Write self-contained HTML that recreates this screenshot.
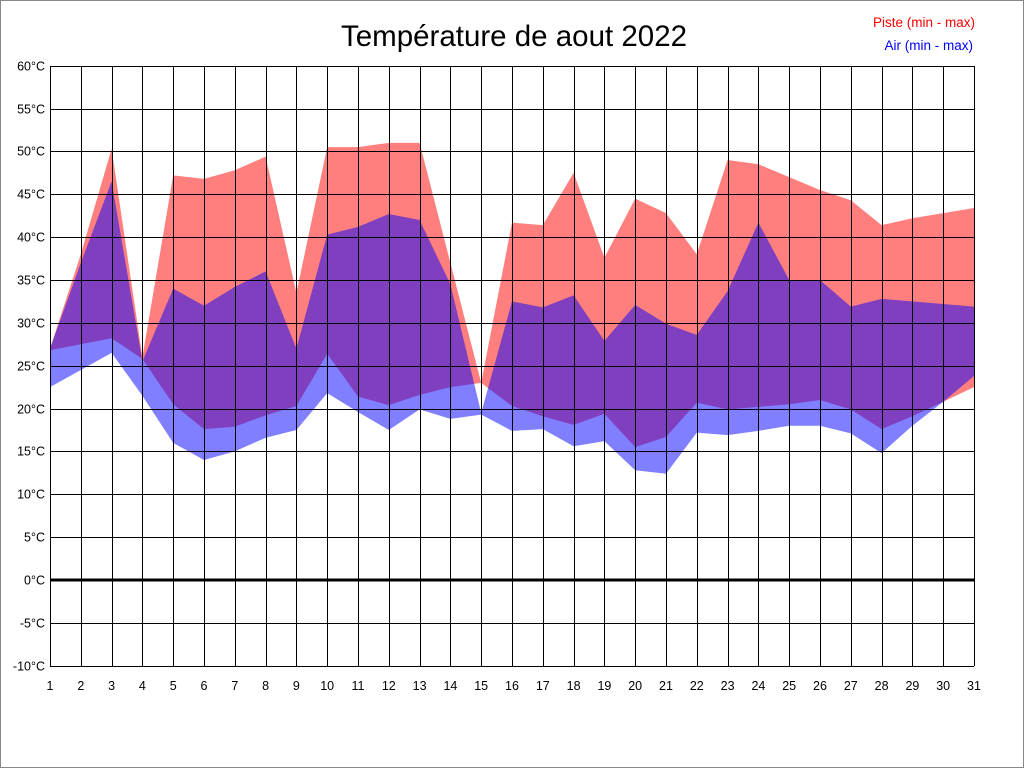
<!DOCTYPE html>
<html><head><meta charset="utf-8"><style>
html,body{margin:0;padding:0;background:#fff}
svg{display:block}
text{font-family:"Liberation Sans",sans-serif}
</style></head><body>
<svg id="c" width="1024" height="768" xmlns="http://www.w3.org/2000/svg"></svg>
<script>
const rMax=[27,38,50.3,26,47.2,46.8,47.8,49.4,33.5,50.5,50.5,51,51,37,23,41.7,41.4,47.5,37.6,44.5,42.8,38,49,48.5,47,45.5,44.3,41.4,42.2,42.8,43.4];
const rMin=[26.8,27.5,28.2,25.8,20.5,17.6,17.9,19.2,20.3,26.4,21.4,20.4,21.6,22.5,23,20.3,19.1,18.1,19.4,15.5,16.7,20.7,19.9,20.2,20.5,21,19.9,17.6,19.1,20.8,22.5];
const aMax=[27,37,46.5,25.5,34,32,34.2,36,27,40.3,41.2,42.7,42,34.5,19.5,32.5,31.8,33.2,27.9,32.1,29.9,28.6,33.7,41.7,35,35,31.9,32.8,32.5,32.2,31.9];
const aMin=[22.5,24.5,26.5,21.5,16,14,15,16.6,17.5,21.8,19.6,17.5,19.9,18.8,19.3,17.4,17.6,15.6,16.2,12.8,12.4,17.2,16.9,17.4,18,18,17.1,14.8,18,20.8,23.8];
const X=i=>50+i*30.8, Y=v=>580-v*600/70;
function poly(hi,lo,col){let p=[];for(let i=0;i<31;i++)p.push(X(i)+','+Y(hi[i]));for(let i=30;i>=0;i--)p.push(X(i)+','+Y(lo[i]));return `<polygon points="${p.join(' ')}" fill="${col}" fill-opacity="0.5"/>`;}
let s='<rect x="0.5" y="0.5" width="1023" height="767" fill="#fff" stroke="#888"/>';
s+=poly(rMax,rMin,'#ff0000');s+=poly(aMax,aMin,'#0000ff');
for(let i=0;i<31;i++){const x=Math.round(X(i))+.5;s+=`<line x1="${x}" y1="66" x2="${x}" y2="666" stroke="#000"/>`;s+=`<text x="${X(i)}" y="690" font-size="12.5" text-anchor="middle">${i+1}</text>`;}
for(let v=-10;v<=60;v+=5){const y=Math.round(Y(v))+.5;s+=`<line x1="50" y1="${y}" x2="974" y2="${y}" stroke="#000"/>`;s+=`<text x="45" y="${y+4}" font-size="12.5" text-anchor="end">${v}°C</text>`;}
s+=`<line x1="50" y1="580" x2="974" y2="580" stroke="#000" stroke-width="3"/>`;
s+=`<text x="514" y="46" font-size="29.5" text-anchor="middle">Température de aout 2022</text>`;
s+=`<text x="975" y="27" font-size="13.5" text-anchor="end" fill="#f00">Piste (min - max)</text>`;
s+=`<text x="973" y="50" font-size="13.5" text-anchor="end" fill="#00f">Air (min - max)</text>`;
document.getElementById('c').innerHTML=s;
</script>
</body></html>
